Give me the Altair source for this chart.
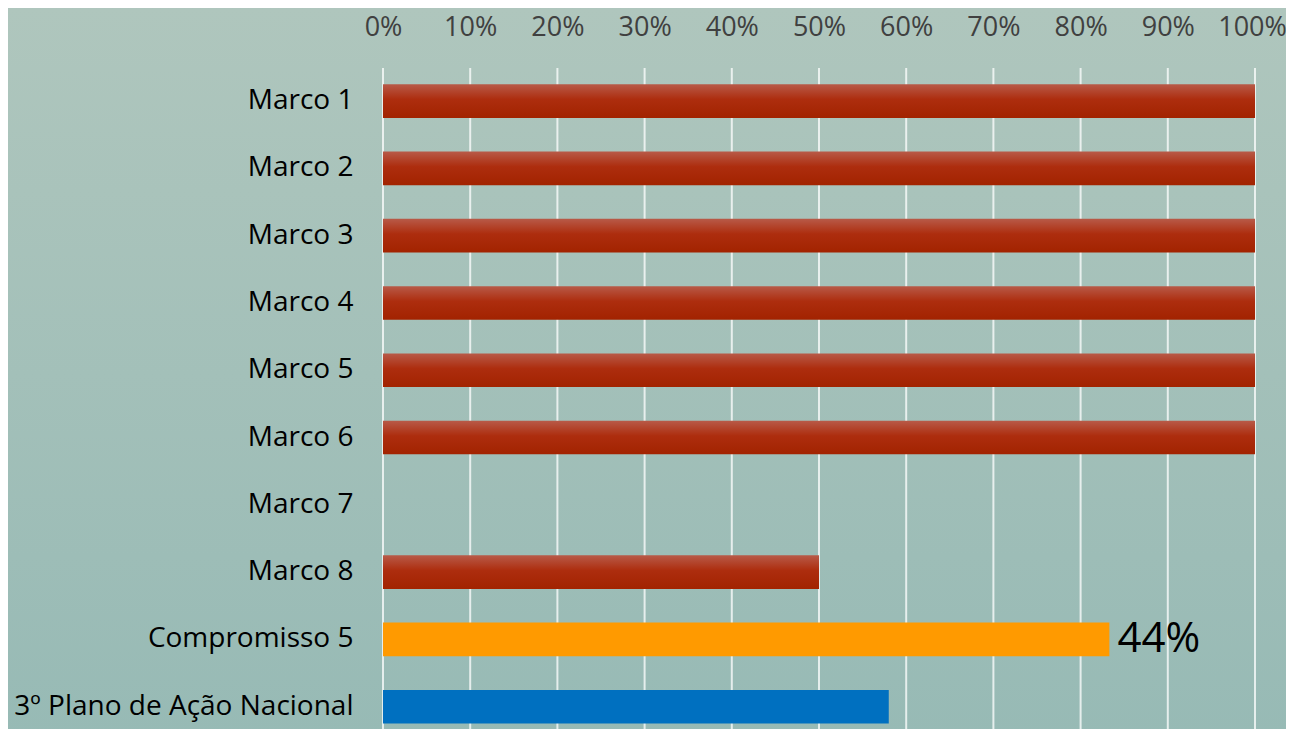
import altair as alt
import pandas as pd

categories = ["Marco 1", "Marco 2", "Marco 3", "Marco 4", "Marco 5", "Marco 6",
              "Marco 7", "Marco 8", "Compromisso 5", "3º Plano de Ação Nacional"]
values = [100, 100, 100, 100, 100, 100, 0, 50, 83.3, 58]
groups = ["marco"] * 8 + ["compromisso", "plano"]
bar_labels = [""] * 8 + ["44%", ""]
ticks = list(range(0, 101, 10))

df = pd.DataFrame({"cat": categories, "val": values, "grp": groups, "lab": bar_labels})
grid_df = pd.DataFrame({"t": ticks})

W, H = 872, 662
PL, PT, PR, PB = 375, 59, 31, 0

y_enc = alt.Y("cat:N", sort=categories, title=None,
              scale=alt.Scale(paddingInner=0.5, paddingOuter=0.1685, align=0.76),
              axis=alt.Axis(labelFont="Open Sans", labelFontSize=28, labelColor="#000000",
                            labelPadding=30, ticks=False, domain=False, grid=False,
                            labelLimit=400, zindex=2))
x_scale = alt.Scale(domain=[0, 100], nice=False)
x_enc = alt.X("val:Q", title=None, scale=x_scale,
              axis=alt.Axis(orient="top", values=ticks,
                            labelExpr="datum.value + '%'",
                            labelFont="Open Sans", labelFontSize=27, labelColor="#404040",
                            labelPadding=26, ticks=False, domain=False,
                            labelOffset={"condition": {"test": "datum.value == 100", "value": -3}, "value": 0},
                            grid=False, labelFlush=False, zindex=2))

bg = alt.Chart(pd.DataFrame({"a": [0]})).mark_rect(
    color=alt.Gradient(gradient="linear", x1=0, y1=0, x2=0, y2=1,
                       stops=[alt.GradientStop(offset=0, color="#afc6bd"),
                              alt.GradientStop(offset=1, color="#97bab5")])
).encode(x=alt.value(-PL), x2=alt.value(W + PR), y=alt.value(-PT), y2=alt.value(H + PB + 10))

grid = alt.Chart(grid_df).mark_rule(color="#ffffff", opacity=0.75, strokeWidth=2).encode(
    x=alt.X("t:Q", scale=x_scale), y=alt.value(1), y2=alt.value(H + 10))

base = alt.Chart(df)

red = base.transform_filter("datum.grp == 'marco'").mark_bar(
    color=alt.Gradient(gradient="linear", x1=0, y1=0, x2=0, y2=1,
                       stops=[alt.GradientStop(offset=0, color="#b85a48"),
                              alt.GradientStop(offset=0.45, color="#ad2d0e"),
                              alt.GradientStop(offset=1, color="#a22300")])
).encode(x=x_enc, y=y_enc)

orange = base.transform_filter("datum.grp == 'compromisso'").mark_bar(color="#ff9a00").encode(x=x_enc, y=y_enc)
blue = base.transform_filter("datum.grp == 'plano'").mark_bar(color="#0070c0").encode(x=x_enc, y=y_enc)

txt = base.transform_filter("datum.lab != ''").mark_text(
    align="left", baseline="middle", dx=8, dy=0, font="Open Sans", fontSize=42, color="#000000"
).encode(x=x_enc, y=y_enc, text="lab:N")

chart = alt.layer(bg, grid, red, orange, blue, txt).properties(
    width=W, height=H,
    autosize=alt.AutoSizeParams(type="none"),
    padding={"left": PL, "top": PT, "right": PR, "bottom": PB},
    background="#a3bfb8"
).configure_view(stroke=None)

chart.save("out.html", embed_options={"renderer": "svg", "actions": False})
